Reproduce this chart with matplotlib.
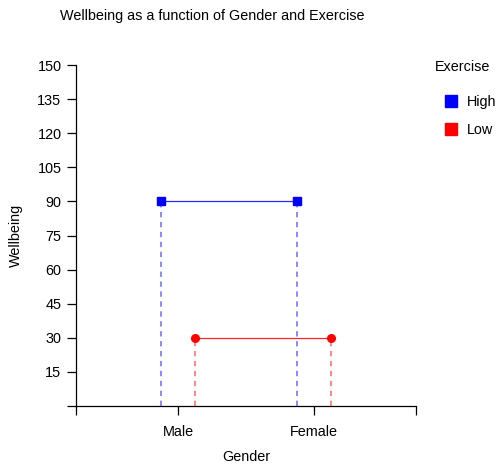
import matplotlib
matplotlib.use("Agg")
import matplotlib.pyplot as plt
from matplotlib.lines import Line2D

plt.rcParams['font.family'] = ['Liberation Sans', 'DejaVu Sans']

# data
genders = ["Male", "Female"]
gender_pos = [1, 2]
exercise = ["High", "Low"]
wellbeing_high = [90, 90]
wellbeing_low = [30, 30]
colors = {"High": "blue", "Low": "red"}
light = {"High": "#6a6aff", "Low": "#ff6a6a"}
markers = {"High": "s", "Low": "o"}
offsets = {"High": -0.125, "Low": 0.125}
yticks = [15, 30, 45, 60, 75, 90, 105, 120, 135, 150]

fs = 10.4
fig = plt.figure(figsize=(4.96, 4.71), dpi=100)
ax = fig.add_axes([76 / 496, 65 / 471, 340 / 496, 341 / 471])

for level, vals in zip(exercise, [wellbeing_high, wellbeing_low]):
    xs = [g + offsets[level] for g in gender_pos]
    c = colors[level]
    ax.plot(xs, vals, color=c, lw=0.9, alpha=0.85, zorder=2)
    ax.vlines(xs, 0, vals, colors=light[level], linestyles=(0, (3.5, 3)), lw=1.1, zorder=1)
    ax.plot(xs, vals, linestyle='none', marker=markers[level], color=c, ms=5.5, zorder=3)

ax.set_xlim(0.25, 2.75)
ax.set_ylim(0, 150)
ax.set_xticks([0.25] + gender_pos + [2.75])
ax.set_xticklabels([""] + genders + [""])
ax.set_yticks([0] + yticks)
ax.set_yticklabels([""] + [str(t) for t in yticks])
ax.spines['top'].set_visible(False)
ax.spines['right'].set_visible(False)
for s in ['left', 'bottom']:
    ax.spines[s].set_linewidth(0.9)
ax.tick_params(axis='both', labelsize=fs, width=0.9, length=6.5, pad=7)
ax.tick_params(axis='y', pad=4)

ax.set_xlabel("Gender", fontsize=fs, labelpad=8)
ax.set_ylabel("Wellbeing", fontsize=fs, labelpad=10)
fig.text(60 / 496, 1 - 16 / 471, "Wellbeing as a function of Gender and Exercise",
         fontsize=fs, ha='left', va='center')

handles = [Line2D([], [], linestyle='none', marker='s', color=colors[e], ms=8.5) for e in exercise]
leg = fig.legend(handles, exercise, title="Exercise", loc='upper left',
                 bbox_to_anchor=(429 / 496, 1 - 54 / 471), frameon=False,
                 fontsize=fs, title_fontsize=fs, handletextpad=0.0, handlelength=2.2,
                 labelspacing=1.0, borderaxespad=0)
leg._legend_box.align = "left"
leg._legend_box.sep = 15

fig.savefig("out.png", dpi=100)
